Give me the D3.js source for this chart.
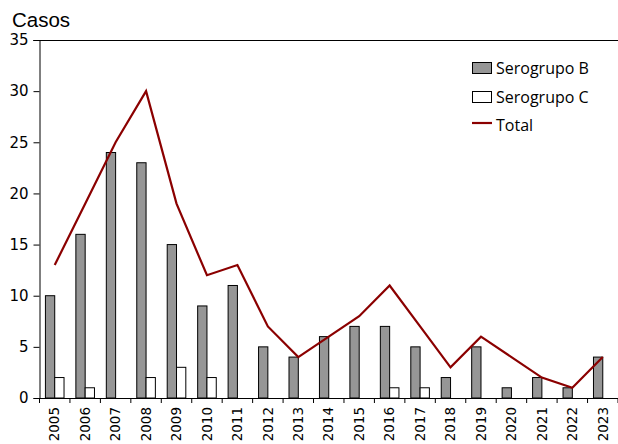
<!DOCTYPE html>
<html><head><meta charset="utf-8">
<script src="https://cdn.jsdelivr.net/npm/d3@7"></script>
<style>body{margin:0;background:#fff}svg{display:block}</style>
</head><body>
<svg id="c" width="618" height="444"></svg>
<script>
const years = ["2005","2006","2007","2008","2009","2010","2011","2012","2013","2014","2015","2016","2017","2018","2019","2020","2021","2022","2023"];
const serogrupoB = [10,16,24,23,15,9,11,5,4,6,7,7,5,2,5,1,2,1,4];
const serogrupoC = [2,1,0,2,3,2,0,0,0,0,0,1,1,0,0,0,0,0,0];
const total = [13,19,25,30,19,12,13,7,4,6,8,11,7,3,6,4,2,1,4];
const yTicks = [0,5,10,15,20,25,30,35];

const svg = d3.select("#c");
const L = 39.5, R = 618, T = 40, B = 398;
const x = d3.scaleBand().domain(years).range([L, R]).paddingInner(0).paddingOuter(0);
const y = d3.scaleLinear().domain([0,35]).range([B, T]);
const bw = 9.3;

// top border line
svg.append("line").attr("x1", L-6).attr("x2", R).attr("y1", y(35)+0.5).attr("y2", y(35)+0.5)
  .attr("stroke","#000").attr("stroke-width",1);

// bars B
svg.append("g").selectAll("rect").data(years).join("rect")
  .attr("x", d => x(d) + x.bandwidth()/2 - bw)
  .attr("y", (d,i) => y(serogrupoB[i]))
  .attr("width", bw)
  .attr("height", (d,i) => y(0) - y(serogrupoB[i]))
  .attr("fill", "#969696").attr("stroke", "#000").attr("stroke-width", 1);
// bars C
svg.append("g").selectAll("rect").data(years.filter((d,i)=>serogrupoC[i]>0)).join("rect")
  .attr("x", d => x(d) + x.bandwidth()/2)
  .attr("y", d => y(serogrupoC[years.indexOf(d)]))
  .attr("width", bw)
  .attr("height", d => y(0) - y(serogrupoC[years.indexOf(d)]))
  .attr("fill", "#fff").attr("stroke", "#000").attr("stroke-width", 1);

// total line
const line = d3.line().x((d,i) => x(years[i]) + x.bandwidth()/2).y(d => y(d));
svg.append("path").datum(total).attr("d", line).attr("fill","none")
  .attr("stroke","#8b0000").attr("stroke-width",2.2).attr("stroke-linejoin","miter");

// y axis
const ya = svg.append("g").attr("transform", `translate(${L},0)`)
  .call(d3.axisLeft(y).tickValues(yTicks).tickSize(6).tickPadding(5));
ya.select(".domain").attr("stroke","#000");
ya.selectAll("text").attr("font-family","DejaVu Sans, Verdana, sans-serif").attr("font-size","15px").attr("fill","#000");

// x axis
const xa = svg.append("g").attr("transform", `translate(0,${B})`)
  .call(d3.axisBottom(x).tickSize(0).tickPadding(0));
xa.select(".domain").remove();
xa.selectAll(".tick line").remove();
xa.selectAll("text")
  .attr("font-family","DejaVu Sans, Verdana, sans-serif").attr("font-size","13.5px").attr("fill","#000")
  .attr("transform","rotate(-90)").attr("text-anchor","end").attr("dy","0.35em").attr("x",-9).attr("y",0);
svg.append("line").attr("x1",L).attr("x2",R).attr("y1",B+0.5).attr("y2",B+0.5).attr("stroke","#000");
svg.append("g").selectAll("line").data(years.concat(["end"])).join("line")
  .attr("x1",(d,i)=> i<years.length ? x(d) : R).attr("x2",(d,i)=> i<years.length ? x(d) : R)
  .attr("y1",B).attr("y2",B+5).attr("stroke","#000");

// y title
svg.append("text").attr("x",12).attr("y",27).text("Casos")
  .attr("font-family","Liberation Sans, Arial, sans-serif").attr("font-size","20.5px").attr("fill","#000");

// legend
const lg = svg.append("g").attr("font-family","Open Sans, Noto Sans, sans-serif").attr("font-size","16px");
lg.append("rect").attr("x",472.5).attr("y",62.5).attr("width",19).attr("height",11).attr("fill","#969696").attr("stroke","#000");
lg.append("text").attr("x",496).attr("y",73.5).text("Serogrupo B");
lg.append("rect").attr("x",472.5).attr("y",91.5).attr("width",19).attr("height",11).attr("fill","#fff").attr("stroke","#000");
lg.append("text").attr("x",496).attr("y",102.5).text("Serogrupo C");
lg.append("line").attr("x1",472).attr("x2",492).attr("y1",123).attr("y2",123).attr("stroke","#8b0000").attr("stroke-width",2.2);
lg.append("text").attr("x",496).attr("y",130.5).text("Total");
</script>
</body></html>
